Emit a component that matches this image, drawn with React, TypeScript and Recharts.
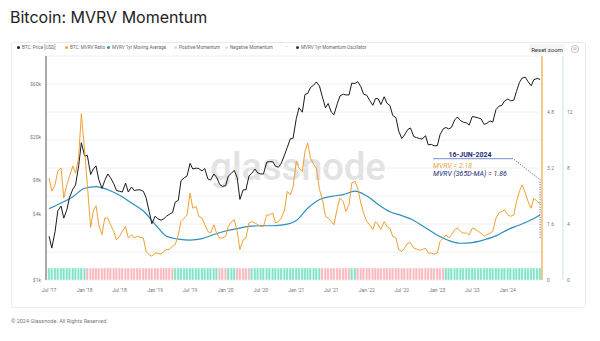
import React from 'react';
import {
  ComposedChart, Line, Bar, Cell, XAxis, YAxis, CartesianGrid, ReferenceDot,
} from 'recharts';

// half-monthly samples (1st and 15th) from 1 Jul 2017, the last one is 16 Jun 2024
const START = { year: 2017, month: 6 };

const btcPrice = [
  2500, 1950, 2750, 4250, 4700, 3650, 4350, 5650, 6700, 7300, 10900, 17700,
  13400, 13600, 9100, 10200, 10900, 8200, 6800, 8000, 9200, 8500, 7500, 6500,
  6400, 6300, 7600, 6300, 7000, 6500, 6600, 6600, 6400, 5600, 4200, 3250,
  3800, 3600, 3500, 3600, 3800, 3950, 4100, 5100, 5300, 8000, 8500, 8800,
  11500, 10200, 10400, 10300, 9800, 10300, 8300, 8100, 9200, 8600, 7400, 7100,
  7200, 8800, 9400, 9900, 8500, 5400, 6600, 6600, 8800, 9300, 10200, 9400,
  9200, 9200, 11800, 11900, 11900, 10800, 10600, 11500, 13700, 16000, 19200, 19400,
  29400, 36800, 33500, 48600, 49600, 55900, 59000, 63200, 57800, 46800, 36700, 40200,
  33600, 31800, 39900, 47000, 48800, 48100, 48100, 61600, 61000, 63600, 57200, 48900,
  47700, 43100, 38700, 44600, 44400, 39300, 46300, 40500, 38500, 31300, 29800, 22600,
  19300, 20800, 23300, 24100, 20100, 19700, 19300, 19100, 20500, 16900, 17100, 16600,
  16600, 20900, 23700, 24300, 23600, 24400, 28500, 30300, 28100, 27200, 26800, 25600,
  30600, 30300, 29700, 29200, 25900, 26600, 27900, 27200, 35400, 37900, 38700, 42300,
  44200, 42500, 43100, 51900, 62400, 68400, 69700, 63400, 58300, 66200, 67800, 66600,
];

const mvrv = [
  2.91, 2.54, 2.72, 3.11, 3.2, 2.34, 2.72, 2.97, 3.26, 3.05, 3.5, 4.75,
  3.69, 2.72, 1.5, 1.97, 2.12, 1.58, 1.29, 1.77, 1.77, 1.58, 1.39, 1.15,
  1.25, 1.39, 1.53, 1.2, 1.29, 1.2, 1.25, 1.22, 1.2, 0.82, 0.72, 0.68,
  0.77, 0.77, 0.74, 0.82, 0.87, 0.87, 0.96, 1.01, 1.29, 1.67, 1.77, 1.86,
  2.48, 2.05, 2.1, 1.82, 1.77, 1.58, 1.39, 1.34, 1.58, 1.34, 1.2, 1.2,
  1.25, 1.53, 1.67, 1.72, 1.39, 0.87, 1.15, 1.2, 1.63, 1.67, 1.63, 1.58,
  1.53, 1.53, 1.86, 1.86, 1.91, 1.63, 1.67, 1.77, 2.0, 2.53, 2.43, 2.65,
  3.39, 3.2, 3.1, 3.68, 3.92, 3.49, 3.3, 3.2, 2.58, 2.34, 1.82, 1.77,
  1.67, 1.58, 2.05, 2.34, 2.24, 1.96, 2.15, 2.77, 2.82, 2.62, 2.2, 1.91,
  1.67, 1.58, 1.44, 1.67, 1.58, 1.44, 1.67, 1.53, 1.48, 1.25, 1.2, 0.87,
  0.82, 0.91, 1.06, 1.06, 0.91, 0.89, 0.85, 0.87, 0.91, 0.77, 0.77, 0.74,
  0.77, 1.1, 1.2, 1.29, 1.2, 1.29, 1.44, 1.48, 1.39, 1.34, 1.34, 1.29,
  1.48, 1.46, 1.39, 1.34, 1.25, 1.29, 1.34, 1.39, 1.77, 1.91, 1.96, 2.0,
  1.86, 1.82, 1.86, 2.24, 2.53, 2.72, 2.48, 2.24, 2.05, 2.34, 2.24, 2.18,
];

// 365D moving average, read every 4th sample (every 2 months) plus the last one
const MA_STEP = 4;
const mvrvMa = [
  2.04, 2.2, 2.38, 2.62, 2.67, 2.58, 2.42, 2.2, 1.97, 1.59, 1.25, 1.17,
  1.14, 1.18, 1.3, 1.4, 1.47, 1.53, 1.55, 1.55, 1.58, 1.7, 2.05, 2.3,
  2.39, 2.44, 2.54, 2.4, 2.16, 1.95, 1.84, 1.7, 1.49, 1.28, 1.13, 1.05,
  1.07, 1.15, 1.26, 1.44, 1.57, 1.72,
];
const mvrvMaLast = 1.86;

// [sign, number of samples]: 1 = positive momentum, -1 = negative
const momentumRuns: [number, number][] = [
  [1, 13], [-1, 30], [1, 15], [-1, 3], [1, 3], [-1, 5],
  [1, 24], [-1, 10], [1, 2], [-1, 30], [1, 33],
];
const MOMENTUM_LEVEL = 0.86; // bar height on the oscillator axis

const xTicks = [
  '2017-07-01', '2018-01-01', '2018-07-01', '2019-01-01', '2019-07-01', '2020-01-01',
  '2020-07-01', '2021-01-01', '2021-07-01', '2022-01-01', '2022-07-01', '2023-01-01',
  '2023-07-01', '2024-01-01',
].map((s) => Date.parse(s));
const xDomain = [Date.parse('2017-06-15'), Date.parse('2024-06-26')];
const priceTicks = [1000, 4000, 8000, 20000, 60000];
const mvrvTicks = [0, 1.6, 3.2, 4.8];
const oscTicks = [0, 4, 8, 12];
const gridValues = Array.from({ length: 17 }, (_, k) => k);

const legendItems = [
  { name: 'BTC: Price [USD]', color: '#1a1a1a', left: 17 },
  { name: 'BTC: MVRV Ratio', color: '#f0a030', left: 65 },
  { name: 'MVRV 1yr Moving Average', color: '#2b8fbf', left: 107 },
  { name: 'Positive Momentum', color: '#bff0e2', left: 174 },
  { name: 'Negative Momentum', color: '#f6d6d9', left: 225 },
  { name: 'MVRV 1yr Momentum Oscillator', color: '#3a2d6e', left: 296 },
];

const momentum: number[] = [];
momentumRuns.forEach(([sign, n]) => {
  for (let k = 0; k < n; k++) momentum.push(sign);
});

const data = btcPrice.map((price, i) => {
  const last = i === btcPrice.length - 1;
  const t = Date.UTC(START.year, START.month + Math.floor(i / 2), i % 2 ? (last ? 16 : 15) : 1);
  let ma: number | null = null;
  if (i % MA_STEP === 0) ma = mvrvMa[i / MA_STEP];
  if (last) ma = mvrvMaLast;
  return { t, price, mvrv: mvrv[i], ma, m: MOMENTUM_LEVEL, sign: momentum[i] };
});
const lastPoint = data[data.length - 1];

const fmtDate = (v: number) => {
  const d = new Date(v);
  return `${d.getUTCMonth() === 0 ? 'Jan' : 'Jul'} '${String(d.getUTCFullYear()).slice(2)}`;
};

const tickStyle = { fontSize: 5, fill: '#777', fontFamily: 'Roboto' };

const PriceTick = (props: any) => {
  const { x, y, payload } = props;
  return (
    <text x={x} y={y} dy={1.8} textAnchor="end" fontSize={5} fill="#777" fontFamily="Roboto">
      ${payload.value / 1000}k
    </text>
  );
};

const Annotation = (props: any) => {
  const { cx, cy } = props;
  const navy = '#1f2a78';
  return (
    <g>
      <path d={`M${cx},${cy + 34} L${cx},${cy - 24} L${cx - 27},${cy - 45}`}
        fill="none" stroke={navy} strokeWidth={0.8} strokeDasharray="1 1.5" />
      <line x1={cx - 107} y1={cy - 45} x2={cx - 27} y2={cy - 45} stroke="#4f6fc0" strokeWidth={0.8} />
      <text x={cx - 70} y={cy - 46.5} textAnchor="middle" fontSize={7} fontWeight={700}
        fill={navy} fontFamily="Roboto">16-JUN-2024</text>
      <text x={cx - 107} y={cy - 36} fontSize={7} fontStyle="italic" fill="#eea53c"
        fontFamily="Roboto">MVRV = {lastPoint.mvrv}</text>
      <text x={cx - 107} y={cy - 28} fontSize={7} fontStyle="italic" fill={navy}
        fontFamily="Roboto">MVRV (365D-MA) = {mvrvMaLast}</text>
    </g>
  );
};

const App = () => (
  <div style={{ position: 'absolute', left: 0, top: 0, width: 600, height: 341, background: '#fff', fontFamily: 'Inter, Roboto, sans-serif', overflow: 'hidden' }}>
    <div style={{ position: 'absolute', left: 10, top: 7, fontSize: 16, color: '#222', whiteSpace: 'nowrap' }}>
      Bitcoin: MVRV Momentum
    </div>
    <div style={{ position: 'absolute', left: 11, top: 42, width: 573, height: 264, border: '1px solid #ebebeb', borderRadius: 3 }} />
    {legendItems.map((it) => (
      <div key={it.name} style={{ position: 'absolute', left: it.left, top: 44, height: 6, display: 'flex', alignItems: 'center', fontSize: 4.6, color: '#666', fontFamily: 'Roboto', whiteSpace: 'nowrap' }}>
        <span style={{ width: 3, height: 3, borderRadius: 2, background: it.color, marginRight: 2, display: 'inline-block' }} />
        {it.name}
      </div>
    ))}
    <div style={{ position: 'absolute', left: 286, top: 44, fontSize: 4.6, color: '#666', fontFamily: 'Roboto' }}>-</div>
    <div style={{ position: 'absolute', left: 529, top: 44, width: 36, height: 10, background: '#f6f6f6', borderRadius: 2, fontSize: 6, color: '#333', fontFamily: 'Roboto', display: 'flex', alignItems: 'center', justifyContent: 'center' }}>
      Reset zoom
    </div>
    <svg style={{ position: 'absolute', left: 570, top: 44 }} width={10} height={10}>
      <circle cx={5} cy={5} r={3.6} fill="none" stroke="#999" strokeWidth={0.6} />
      <line x1={3.3} y1={4} x2={6.7} y2={4} stroke="#999" strokeWidth={0.6} />
      <line x1={3.3} y1={5.5} x2={6.7} y2={5.5} stroke="#999" strokeWidth={0.6} />
    </svg>
    <svg style={{ position: 'absolute', left: 0, top: 0 }} width={600} height={341}>
      <text x={298} y={180} textAnchor="middle" fontSize={38} fontWeight={500} fill="#e2e2e2" fontFamily="Roboto">glassnode</text>
    </svg>
    <div style={{ position: 'absolute', left: 0, top: 0 }}>
      <ComposedChart width={600} height={341} data={data} margin={{ top: 56, right: 17, bottom: 41, left: 0 }}>
        <CartesianGrid yAxisId="osc" vertical={false} horizontalValues={gridValues} stroke="#ececec" strokeWidth={0.8} />
        <XAxis dataKey="t" type="number" domain={xDomain} ticks={xTicks} tickFormatter={fmtDate}
          axisLine={false} tickLine={false} tickSize={0} tickMargin={8} height={20} tick={tickStyle} />
        <YAxis yAxisId="price" scale="log" domain={[1000, 108600]} ticks={priceTicks} allowDataOverflow
          width={46} axisLine={{ stroke: '#555' }} tickLine={false} tickSize={0} tickMargin={5} tick={<PriceTick />} />
        <YAxis yAxisId="mvrv" orientation="right" domain={[0, 6.4]} ticks={mvrvTicks} width={21}
          axisLine={{ stroke: '#eea53c', strokeWidth: 1.2 }} tickLine={false} tickSize={0} tickMargin={5} tick={tickStyle} />
        <YAxis yAxisId="osc" orientation="right" domain={[0, 16]} ticks={oscTicks} width={20}
          axisLine={{ stroke: '#c9e5ec' }} tickLine={false} tickSize={0} tickMargin={4} tick={tickStyle} />
        <Bar yAxisId="osc" dataKey="m" barSize={3} stroke="#ffffff" strokeWidth={0.4} isAnimationActive={false}>
          {data.map((d, i) => (
            <Cell key={`m-${i}`} fill={d.sign > 0 ? '#7de3c6' : '#f9b7bd'} />
          ))}
        </Bar>
        <Line yAxisId="mvrv" dataKey="ma" type="monotone" connectNulls dot={false} stroke="#2b8fbf"
          strokeWidth={1.2} isAnimationActive={false} />
        <Line yAxisId="price" dataKey="price" type="linear" dot={false} stroke="#1a1a1a"
          strokeWidth={1} isAnimationActive={false} />
        <Line yAxisId="mvrv" dataKey="mvrv" type="linear" dot={false} stroke="#f0a030"
          strokeWidth={1} isAnimationActive={false} />
        <ReferenceDot yAxisId="mvrv" x={lastPoint.t} y={lastPoint.mvrv} r={1} shape={Annotation} />
      </ComposedChart>
    </div>
    <div style={{ position: 'absolute', left: 11, top: 318, fontSize: 5.5, color: '#777', fontFamily: 'Roboto', whiteSpace: 'nowrap' }}>
      © 2024 Glassnode. All Rights Reserved.
    </div>
  </div>
);

export default App;
